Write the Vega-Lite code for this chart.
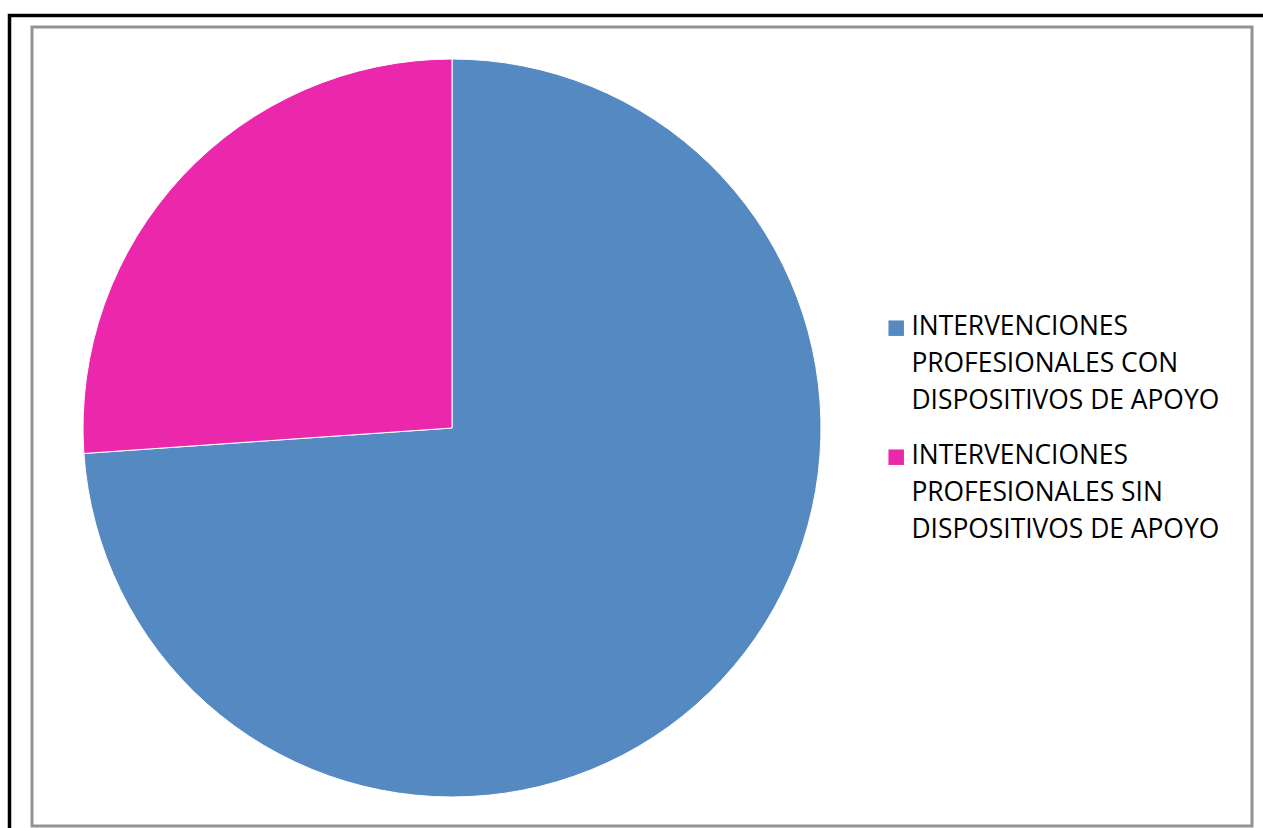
{
  "$schema": "https://vega.github.io/schema/vega-lite/v6.json",
  "autosize": "none",
  "padding": {"left": 32, "top": 27, "right": 11, "bottom": 2},
  "width": 1220,
  "height": 799,
  "background": "white",
  "config": {
    "view": {"stroke": null},
    "style": {"guide-label": {"lineHeight": 36.7, "dy": 7}}
  },
  "layer": [
    {
      "data": {"values": [{}]},
      "mark": {"type": "rect", "x": -22.5, "y": -11.5, "x2": 1250, "y2": 830, "fill": null, "stroke": "black", "strokeWidth": 3.5, "clip": false},
      "encoding": {}
    },
    {
      "data": {"values": [{}]},
      "mark": {"type": "rect", "x": 0, "y": 0, "x2": 1220, "y2": 799, "fill": null, "stroke": "#939393", "strokeWidth": 3, "clip": false},
      "encoding": {}
    },
    {
      "data": {
        "values": [
          {"categoria": "INTERVENCIONES|PROFESIONALES CON|DISPOSITIVOS DE APOYO", "valor": 73.9, "orden": 1},
          {"categoria": "INTERVENCIONES|PROFESIONALES SIN|DISPOSITIVOS DE APOYO", "valor": 26.1, "orden": 2}
        ]
      },
      "mark": {"type": "arc", "x": 420, "y": 401, "outerRadius": 369, "stroke": "white", "strokeWidth": 1},
      "encoding": {
        "theta": {"field": "valor", "type": "quantitative", "stack": true},
        "order": {"field": "orden", "type": "quantitative"},
        "color": {
          "field": "categoria",
          "type": "nominal",
          "sort": null,
          "scale": {"range": ["#5589C2", "#EB28AB"]},
          "legend": {
            "title": null,
            "orient": "none",
            "legendX": 851,
            "legendY": 288,
            "padding": 0,
            "symbolType": "square",
            "symbolSize": 240,
            "symbolStrokeWidth": 0,
            "labelFont": "Open Sans",
            "labelFontSize": 26.4,
            "labelColor": "#000000",
            "labelLimit": 500,
            "labelOffset": 2,
            "rowPadding": 28,
            "labelExpr": "split(datum.label, '|')",
            "labelBaseline": "alphabetic"
          }
        }
      }
    }
  ]
}
